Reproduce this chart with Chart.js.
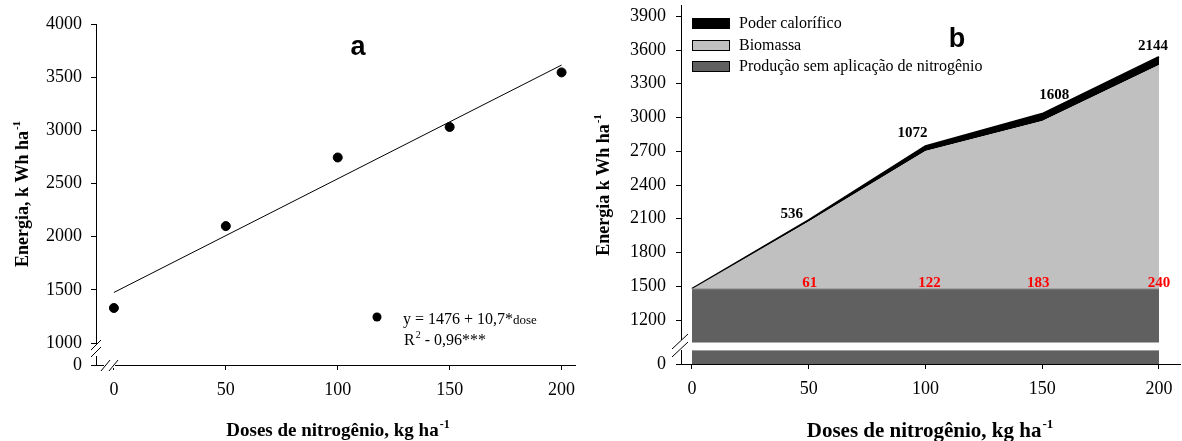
<!DOCTYPE html>
<html>
<head>
<meta charset="utf-8">
<script src="https://cdn.jsdelivr.net/npm/chart.js@4"></script>
<style>
  html, body { margin: 0; padding: 0; background: #fff; }
  #wrap { position: relative; width: 1182px; height: 441px; }
  #chartA { position: absolute; left: 0; top: 0; }
  #chartB { position: absolute; left: 590px; top: 0; }
</style>
</head>
<body>
<div id="wrap">
  <canvas id="chartA" width="590" height="441"></canvas>
  <canvas id="chartB" width="592" height="441"></canvas>
</div>
<script>
// painel a - energia observada e ajuste linear
const doses = [0, 50, 100, 150, 200];
const energiaObs = [1330, 2100, 2745, 3032, 3545];
const ajusteDoses = [0, 200];
const ajusteEnergia = [1476, 3614];
const ticksA = [1000, 1500, 2000, 2500, 3000, 3500, 4000];

// painel b - composicao da energia
const semNitrogenio = [1476, 1476, 1476, 1476, 1476];
const biomassa = [0, 600, 1227, 1493, 1990];
const poderCalorifico = [0, 13, 42, 64, 72];
const rotulosTopo = ["536", "1072", "1608", "2144"];
const rotulosBase = ["61", "122", "183", "240"];
const ticksB = [1200, 1500, 1800, 2100, 2400, 2700, 3000, 3300, 3600, 3900];
const dosesTicks = [0, 50, 100, 150, 200];

const serif = "'Liberation Serif', 'Times New Roman', serif";
const sans = "'Liberation Sans', Arial, sans-serif";
Chart.defaults.font.family = serif;
Chart.defaults.color = "#000";

function xScale(min, max, h) {
    return {
        type: "linear", min: min, max: max,
        afterBuildTicks: s => { s.ticks = dosesTicks.map(v => ({ value: v })); },
        afterFit: s => { s.height = h; s.paddingLeft = 0; s.paddingRight = 0; },
        grid: { drawOnChartArea: false, tickLength: 5, color: "#000" },
        border: { color: "#000", width: 1 },
        ticks: { font: { size: 18 }, padding: 9, color: "#000" }
    };
}

function yScale(min, max, ticks, w, pad, stacked) {
    return {
        type: "linear", min: min, max: max, stacked: stacked,
        afterBuildTicks: s => { s.ticks = [min].concat(ticks).map(v => ({ value: v })); },
        afterFit: s => { s.width = w; s.paddingTop = 0; s.paddingBottom = 0; },
        grid: { drawOnChartArea: false, tickLength: 5, color: "#000" },
        border: { color: "#000", width: 1 },
        ticks: { font: { size: 18 }, padding: pad, color: "#000", callback: v => v === min ? "0" : String(v) }
    };
}

// texto com expoente (ha-1, R2)
function supText(ctx, x, y, main, sup, size, weight, align) {
    ctx.font = weight + " " + size + "px " + serif;
    const w1 = ctx.measureText(main).width;
    const small = Math.round(size * 0.62);
    ctx.font = weight + " " + small + "px " + serif;
    const w2 = ctx.measureText(sup).width;
    let x0 = align === "center" ? x - (w1 + w2 + 1) / 2 : x;
    ctx.textAlign = "left";
    ctx.textBaseline = "alphabetic";
    ctx.font = weight + " " + size + "px " + serif;
    ctx.fillText(main, x0, y);
    ctx.font = weight + " " + small + "px " + serif;
    ctx.fillText(sup, x0 + w1 + 1, y - size * 0.42);
    return x0 + w1 + w2 + 1;
}

function line(ctx, x1, y1, x2, y2) {
    ctx.beginPath();
    ctx.moveTo(x1, y1);
    ctx.lineTo(x2, y2);
    ctx.stroke();
}

const extrasA = {
    id: "extrasA",
    afterDraw(chart) {
        const ctx = chart.ctx;
        ctx.save();
        ctx.fillStyle = "#000";
        ctx.strokeStyle = "#000";

        // letra do painel
        ctx.font = "bold 27px " + sans;
        ctx.textAlign = "center";
        ctx.textBaseline = "alphabetic";
        ctx.fillText("a", 358, 55);

        // equacao
        ctx.beginPath();
        ctx.arc(377, 317, 4.5, 0, Math.PI * 2);
        ctx.fill();
        ctx.font = "16px " + serif;
        ctx.textAlign = "left";
        ctx.fillText("y = 1476 + 10,7*", 403, 324);
        const w = ctx.measureText("y = 1476 + 10,7*").width;
        ctx.font = "13px " + serif;
        ctx.fillText("dose", 403 + w, 324);
        const xr = supText(ctx, 404, 345, "R", "2", 16, "normal", "left");
        ctx.font = "16px " + serif;
        ctx.fillText(" - 0,96***", xr, 345);

        // titulos dos eixos
        supText(ctx, 338, 436, "Doses de nitrogênio, kg ha", "-1", 19, "bold", "center");
        ctx.save();
        ctx.translate(28, 194);
        ctx.rotate(-Math.PI / 2);
        supText(ctx, 0, 0, "Energia, k Wh ha", "-1", 18, "bold", "center");
        ctx.restore();

        // quebra dos eixos
        ctx.fillStyle = "#fff";
        ctx.fillRect(93, 344, 6, 12);
        ctx.fillRect(104, 362, 11, 6);
        ctx.lineWidth = 1;
        line(ctx, 91, 350, 101, 340);
        line(ctx, 91, 357, 101, 347);
        line(ctx, 101, 371, 110, 360);
        line(ctx, 109, 371, 118, 360);
        ctx.restore();
    }
};

new Chart(document.getElementById("chartA"), {
    type: "scatter",
    data: {
        datasets: [{
            label: "Observado",
            data: doses.map((d, i) => ({ x: d, y: energiaObs[i] })),
            pointRadius: 4.5,
            backgroundColor: "#000",
            borderColor: "#000"
        }, {
            type: "line",
            label: "Ajuste",
            data: ajusteDoses.map((d, i) => ({ x: d, y: ajusteEnergia[i] })),
            borderColor: "#000",
            borderWidth: 1,
            pointRadius: 0,
            fill: false
        }]
    },
    options: {
        responsive: false,
        animation: false,
        layout: { padding: { left: 0, right: 15, top: 24, bottom: 0 } },
        plugins: { legend: { display: false }, tooltip: { enabled: false } },
        scales: {
            x: xScale(-8, 206, 76),
            y: yScale(794, 4000, ticksA, 96, 9, false)
        }
    },
    plugins: [extrasA]
});

const extrasB = {
    id: "extrasB",
    afterDatasetsDraw(chart) {
        const ctx = chart.ctx;
        const xs = chart.scales.x, ys = chart.scales.y;
        const area = chart.chartArea;
        ctx.save();
        // faixa branca da quebra
        const y1 = ys.getPixelForValue(1000), y2 = ys.getPixelForValue(930);
        ctx.fillStyle = "#fff";
        ctx.fillRect(area.left + 1, y1, area.right - area.left, y2 - y1);

        // rotulos
        const offTopo = [[-17, -6], [-13, -13], [12, -19], [-6, -11]];
        ctx.font = "bold 15px " + serif;
        ctx.textAlign = "center";
        ctx.textBaseline = "middle";
        ctx.fillStyle = "#000";
        rotulosTopo.forEach((t, i) => {
            const k = i + 1;
            const topo = semNitrogenio[k] + biomassa[k] + poderCalorifico[k];
            ctx.fillText(t, xs.getPixelForValue(doses[k]) + offTopo[i][0], ys.getPixelForValue(topo) + offTopo[i][1]);
        });
        const offBase = [1, 4, -4, 0];
        ctx.fillStyle = "#ff0000";
        rotulosBase.forEach((t, i) => {
            const k = i + 1;
            ctx.fillText(t, xs.getPixelForValue(doses[k]) + offBase[i], ys.getPixelForValue(semNitrogenio[k]) - 6);
        });
        ctx.restore();
    },
    afterDraw(chart) {
        const ctx = chart.ctx;
        ctx.save();
        ctx.fillStyle = "#000";
        ctx.strokeStyle = "#000";

        ctx.font = "bold 27px " + sans;
        ctx.textAlign = "center";
        ctx.textBaseline = "alphabetic";
        ctx.fillText("b", 367, 47);

        // legenda
        const ds = chart.data.datasets.slice().reverse();
        const tops = [18, 40, 61];
        ds.forEach((d, i) => {
            ctx.fillStyle = d.backgroundColor;
            ctx.fillRect(102, tops[i], 38, 11);
            ctx.lineWidth = 1;
            ctx.strokeStyle = "#000";
            ctx.strokeRect(102.5, tops[i] + 0.5, 37, 10);
            ctx.fillStyle = "#000";
            ctx.font = "16px " + serif;
            ctx.textAlign = "left";
            ctx.textBaseline = "middle";
            ctx.fillText(d.label, 149, tops[i] + 6);
        });

        // titulos dos eixos
        supText(ctx, 340, 437, "Doses de nitrogênio, kg ha", "-1", 21, "bold", "center");
        ctx.save();
        ctx.translate(19, 185);
        ctx.rotate(-Math.PI / 2);
        supText(ctx, 0, 0, "Energia k Wh ha", "-1", 18, "bold", "center");
        ctx.restore();

        // quebra do eixo y
        ctx.fillStyle = "#fff";
        ctx.fillRect(88, 340, 6, 10);
        ctx.strokeStyle = "#000";
        ctx.lineWidth = 1;
        line(ctx, 82, 349, 98, 334);
        line(ctx, 82, 357, 98, 342);
        ctx.restore();
    }
};

const pontos = arr => doses.map((d, i) => ({ x: d, y: arr[i] }));

new Chart(document.getElementById("chartB"), {
    type: "line",
    data: {
        datasets: [{
            label: "Produção sem aplicação de nitrogênio",
            data: pontos(semNitrogenio),
            backgroundColor: "#606060",
            borderColor: "#8a8a8a",
            borderWidth: 1,
            fill: "start",
            pointRadius: 0
        }, {
            label: "Biomassa",
            data: pontos(biomassa),
            backgroundColor: "#c0c0c0",
            borderColor: "#c0c0c0",
            borderWidth: 0,
            fill: "-1",
            pointRadius: 0
        }, {
            label: "Poder calorífico",
            data: pontos(poderCalorifico),
            backgroundColor: "#000",
            borderColor: "#000",
            borderWidth: 2,
            fill: "-1",
            pointRadius: 0
        }]
    },
    options: {
        responsive: false,
        animation: false,
        layout: { padding: { left: 0, right: 2, top: 5, bottom: 0 } },
        plugins: { legend: { display: false }, tooltip: { enabled: false } },
        scales: {
            x: xScale(-4.7, 209, 77),
            y: yScale(809, 4000, ticksB, 91, 10, true)
        }
    },
    plugins: [extrasB]
});
</script>
</body>
</html>
